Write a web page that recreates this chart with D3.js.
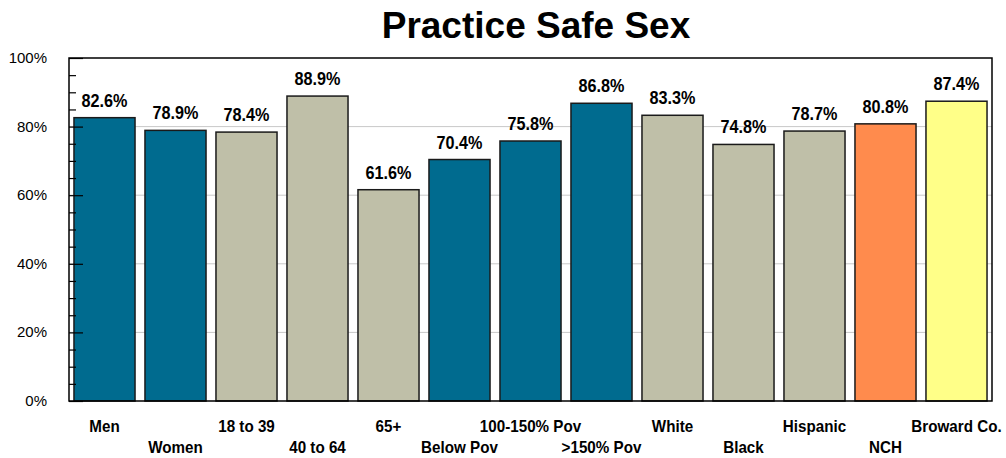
<!DOCTYPE html>
<html>
<head>
<meta charset="utf-8">
<script src="https://cdn.jsdelivr.net/npm/d3@7"></script>
<style>
  body { margin: 0; background: #fff; }
  text { font-family: "Liberation Sans", Arial, sans-serif; }
</style>
</head>
<body>
<div id="chart"></div>
<script>
// chart data
const categories = ["Men", "Women", "18 to 39", "40 to 64", "65+", "Below Pov", "100-150% Pov",
  ">150% Pov", "White", "Black", "Hispanic", "NCH", "Broward Co."];
const values = [82.6, 78.9, 78.4, 88.9, 61.6, 70.4, 75.8, 86.8, 83.3, 74.8, 78.7, 80.8, 87.4];
const groups = ["blue", "blue", "grey", "grey", "grey", "blue", "blue", "blue", "grey", "grey", "grey", "nch", "county"];
const yTicks = [0, 20, 40, 60, 80, 100];

const colors = { blue: "#006B8F", grey: "#BFBFA8", nch: "#FF8B4D", county: "#FFFF88" };

const w = 1006, h = 458;
const plotL = 69, plotR = 992, plotT = 58, plotB = 401;

const svg = d3.select("#chart").append("svg").attr("width", w).attr("height", h);

const x = d3.scaleBand().domain(categories).range([plotL, plotR]).paddingInner(0.14).paddingOuter(0.07);
const y = d3.scaleLinear().domain([0, 100]).range([plotB, plotT]);

// gridlines
svg.append("g")
  .selectAll("line")
  .data(yTicks.slice(1, -1))
  .enter()
  .append("line")
  .attr("x1", plotL).attr("x2", plotR)
  .attr("y1", d => y(d)).attr("y2", d => y(d))
  .attr("stroke", "#c8c8c8").attr("stroke-width", 1);

// bars
svg.append("g")
  .selectAll("rect")
  .data(categories)
  .enter()
  .append("rect")
  .attr("x", d => x(d))
  .attr("y", (d, i) => y(values[i]))
  .attr("width", x.bandwidth())
  .attr("height", (d, i) => y(0) - y(values[i]))
  .attr("fill", (d, i) => colors[groups[i]])
  .attr("stroke", "#1a1a1a")
  .attr("stroke-width", 1.5);

// value labels (text looks a bit condensed)
svg.append("g")
  .selectAll("text")
  .data(categories)
  .enter()
  .append("text")
  .attr("transform", (d, i) =>
    `translate(${x(d) + x.bandwidth() / 2},${y(values[i]) - 11}) scale(0.9,1)`)
  .attr("text-anchor", "middle")
  .attr("font-size", 18)
  .attr("font-weight", "bold")
  .text((d, i) => values[i].toFixed(1) + "%");

// plot frame
svg.append("rect")
  .attr("x", plotL).attr("y", plotT)
  .attr("width", plotR - plotL).attr("height", plotB - plotT)
  .attr("fill", "none").attr("stroke", "#000").attr("stroke-width", 1.5);

// y axis: minor ticks every 5, major every 20, drawn inside
const yAxis = d3.axisRight(y).tickValues(d3.range(0, 101, 5)).tickSize(7).tickFormat("");
const ax = svg.append("g").attr("transform", `translate(${plotL},0)`).call(yAxis);
ax.select(".domain").remove();
ax.selectAll(".tick line")
  .attr("x2", d => d % 20 === 0 ? 14 : 7)
  .attr("stroke", "#000").attr("stroke-width", 1.2);

svg.append("g")
  .selectAll("text")
  .data(yTicks)
  .enter()
  .append("text")
  .attr("x", 47)
  .attr("y", d => y(d) + 5)
  .attr("text-anchor", "end")
  .attr("font-size", 15)
  .text(d => d + "%");

// category labels, staggered in two rows
svg.append("g")
  .selectAll("text")
  .data(categories)
  .enter()
  .append("text")
  .attr("transform", (d, i) =>
    `translate(${x(d) + x.bandwidth() / 2},${i % 2 === 0 ? 432 : 453}) scale(0.95,1)`)
  .attr("text-anchor", "middle")
  .attr("font-size", 16)
  .attr("font-weight", "bold")
  .text(d => d);

// title
svg.append("text")
  .attr("x", 536)
  .attr("y", 38)
  .attr("text-anchor", "middle")
  .attr("font-size", 37)
  .attr("font-weight", "bold")
  .text("Practice Safe Sex");
</script>
</body>
</html>
